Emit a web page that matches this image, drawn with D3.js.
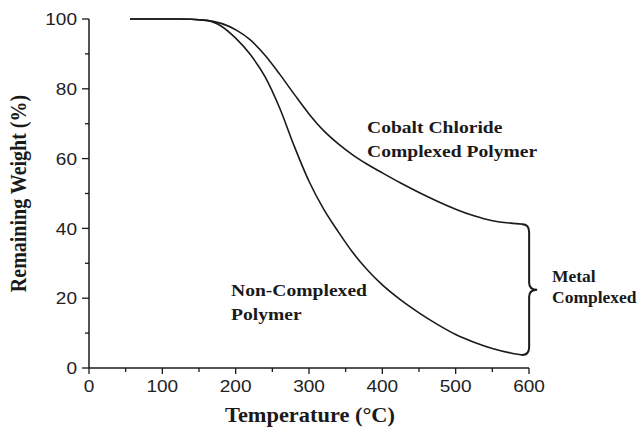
<!DOCTYPE html>
<html><head><meta charset="utf-8">
<script src="https://cdn.jsdelivr.net/npm/d3@7"></script>
<style>body{margin:0;background:#fff}svg{display:block}</style>
</head><body>
<svg id="chart" width="644" height="428"></svg>
<script>
const xTicks = [0,100,200,300,400,500,600];
const yTicks = [0,20,40,60,80,100];
const cobaltTemp = [56,120,160,201,220,240,260,280,300,320,340,360,380,400,425,450,475,500,525,550,575,592];
const cobaltWeight = [100,100,99.6,96.8,94.0,89.6,84.2,78.4,72.8,68.0,64.2,61.0,58.3,55.9,53.0,50.3,47.8,45.5,43.6,42.2,41.5,41.2];
const nonTemp = [56,120,160,180,200,220,240,260,280,300,320,340,360,380,400,425,450,475,500,525,550,575,592];
const nonWeight = [100,100,99.6,98.0,94.5,89.8,83.5,74.5,63.5,53.5,45.5,39.0,33.0,28.0,23.8,19.5,15.8,12.5,9.6,7.4,5.6,4.3,3.7];
const labels = {
  cobalt: ["Cobalt Chloride","Complexed Polymer"],
  non: ["Non-Complexed","Polymer"],
  metal: ["Metal","Complexed"],
  xTitle: "Temperature (°C)",
  yTitle: "Remaining Weight (%)"
};

(function(){
const svg = d3.select("#chart");
const m = {l:89, r:115, t:19, b:60};
const W = 644, H = 428;
const x = d3.scaleLinear().domain([0,600]).range([m.l, W-m.r]);
const y = d3.scaleLinear().domain([0,100]).range([H-m.b, m.t]);
const ink = "#1a1a1a";
const SX = 1.12;
const sans = "Liberation Sans, Arial, sans-serif";
const serif = "Liberation Serif, Times New Roman, serif";

const xMinor = d3.range(50,600,100);
const yMinor = d3.range(10,100,20);
const xAxisG = svg.append("g").attr("transform",`translate(0,${y(0)})`);
xAxisG.append("line").attr("x1",x(0)).attr("x2",x(600)).attr("stroke",ink).attr("stroke-width",1.5);
xAxisG.selectAll(".maj").data(xTicks).join("line").attr("class","maj").attr("x1",d=>x(d)).attr("x2",d=>x(d)).attr("y1",0).attr("y2",6).attr("stroke",ink).attr("stroke-width",1.3);
xAxisG.selectAll(".min").data(xMinor).join("line").attr("class","min").attr("x1",d=>x(d)).attr("x2",d=>x(d)).attr("y1",0).attr("y2",4).attr("stroke",ink).attr("stroke-width",1.3);
xAxisG.selectAll("text").data(xTicks).join("text").attr("transform",d=>`translate(${x(d)},24) scale(${SX},1)`)
  .attr("text-anchor","middle").attr("font-family",sans).attr("font-size",17).attr("fill","#222").text(d=>d);

const yAxisG = svg.append("g").attr("transform",`translate(${x(0)},0)`);
yAxisG.append("line").attr("y1",y(0)).attr("y2",y(100)).attr("stroke",ink).attr("stroke-width",1.5);
yAxisG.selectAll(".maj").data(yTicks).join("line").attr("class","maj").attr("y1",d=>y(d)).attr("y2",d=>y(d)).attr("x1",0).attr("x2",-7).attr("stroke",ink).attr("stroke-width",1.3);
yAxisG.selectAll(".min").data(yMinor).join("line").attr("class","min").attr("y1",d=>y(d)).attr("y2",d=>y(d)).attr("x1",0).attr("x2",-4).attr("stroke",ink).attr("stroke-width",1.3);
yAxisG.selectAll("text").data(yTicks).join("text").attr("transform",d=>`translate(-12,${y(d)}) scale(${SX},1)`).attr("dy","0.36em")
  .attr("text-anchor","end").attr("font-family",sans).attr("font-size",17).attr("fill","#222").text(d=>d);

svg.append("text").attr("transform",`translate(${(x(0)+x(600))/2+1},${H-6}) scale(${SX},1)`).attr("text-anchor","middle")
  .attr("font-family",serif).attr("font-weight","bold").attr("font-size",20).attr("fill",ink).text(labels.xTitle);
svg.append("text").attr("transform",`translate(26,${(y(0)+y(100))/2}) rotate(-90) scale(1,${SX})`).attr("text-anchor","middle")
  .attr("font-family",serif).attr("font-weight","bold").attr("font-size",20).attr("fill",ink).text(labels.yTitle);

const line = d3.line().x(d=>x(d[0])).y(d=>y(d[1])).curve(d3.curveMonotoneX);
const cobalt = cobaltTemp.map((t,i)=>[t,cobaltWeight[i]]);
const non = nonTemp.map((t,i)=>[t,nonWeight[i]]);
[cobalt, non].forEach(s=>{
  svg.append("path").attr("d",line(s)).attr("fill","none").attr("stroke",ink).attr("stroke-width",1.6);
});

function block(lines, px, py, gap, sx){
  const g = svg.append("g").attr("transform",`translate(${px},${py}) scale(${sx},1)`);
  const t = g.append("text").attr("font-family",serif).attr("font-weight","bold").attr("font-size",17.5).attr("fill",ink);
  lines.forEach((s,i)=>t.append("tspan").attr("x",0).attr("y",i*gap).text(s));
}
block(labels.cobalt, 367, 133, 24, SX);
block(labels.non, 231, 296, 24, SX);
block(labels.metal, 552, 282, 21, 1.0);

const bx = x(cobaltTemp[cobaltTemp.length-1]) - 1;
const bTop = y(cobaltWeight[cobaltWeight.length-1]);
const bBot = y(nonWeight[nonWeight.length-1]);
const mid = (bTop+bBot)/2;
const vx = bx + 7, tip = bx + 15;
const p = d3.path();
p.moveTo(bx, bTop);
p.quadraticCurveTo(vx, bTop, vx, bTop+8);
p.lineTo(vx, mid-7);
p.quadraticCurveTo(vx, mid, tip, mid);
p.quadraticCurveTo(vx, mid, vx, mid+7);
p.lineTo(vx, bBot-8);
p.quadraticCurveTo(vx, bBot, bx, bBot);
svg.append("path").attr("d",p.toString()).attr("fill","none").attr("stroke",ink).attr("stroke-width",2);
})();
</script>
</body></html>
